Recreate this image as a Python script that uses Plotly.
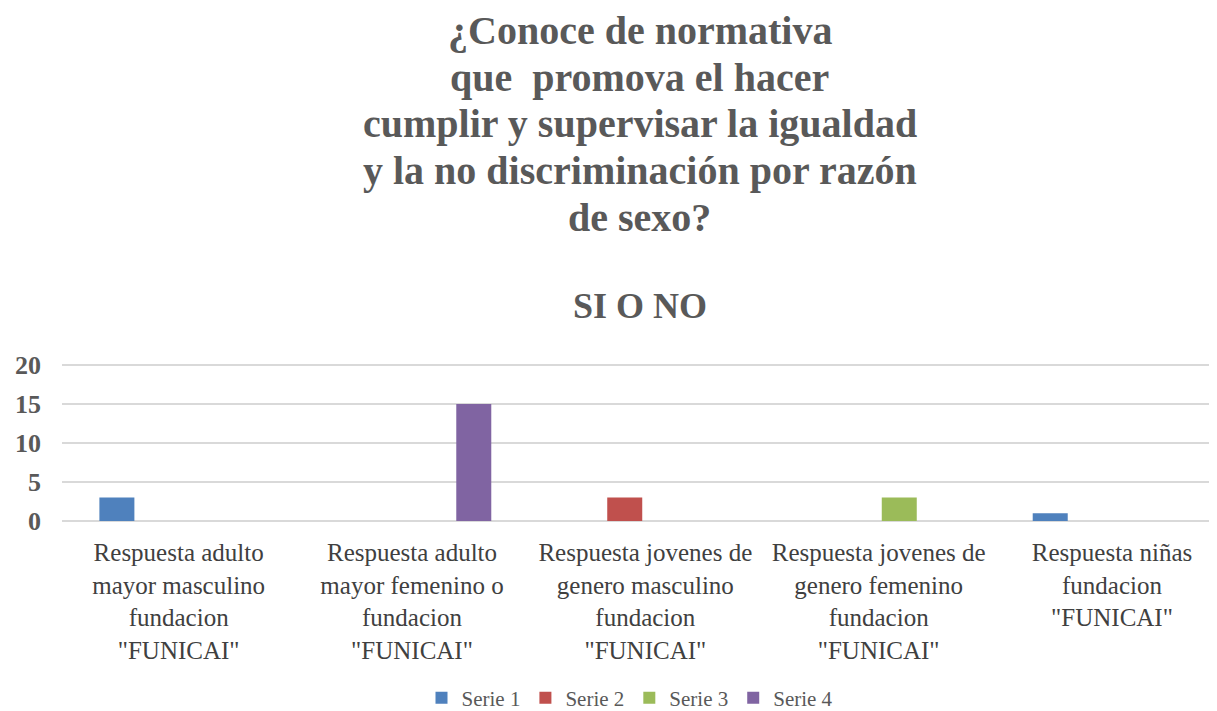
import plotly.graph_objects as go

categories = [
    "Respuesta adulto<br>mayor masculino<br>fundacion<br>\"FUNICAI\"",
    "Respuesta adulto<br>mayor femenino o<br>fundacion<br>\"FUNICAI\"",
    "Respuesta jovenes de<br>genero masculino<br>fundacion<br>\"FUNICAI\"",
    "Respuesta jovenes de<br>genero femenino<br>fundacion<br>\"FUNICAI\"",
    "Respuesta niñas<br>fundacion<br>\"FUNICAI\"",
]
serie1 = [3, None, None, None, 1]
serie2 = [None, None, 3, None, None]
serie3 = [None, None, None, 3, None]
serie4 = [None, 15, None, None, None]
series_names = ["Serie 1", "Serie 2", "Serie 3", "Serie 4"]
colors = ["#4f81bd", "#c0504d", "#9bbb59", "#8064a2"]
y_ticks = [0, 5, 10, 15, 20]

title_lines = [
    "¿Conoce de normativa",
    "que  promova el hacer",
    "cumplir y supervisar la igualdad",
    "y la no discriminación por razón",
    "de sexo?",
]
subtitle_text = "SI O NO"

fig = go.Figure()
for name, vals, col in zip(series_names, [serie1, serie2, serie3, serie4], colors):
    fig.add_trace(go.Bar(x=categories, y=vals, name=name, marker_color=col,
                         marker_line_width=0))

OFF = 8  # page body margin offset
W, H = 1217 - OFF, 711 - OFF
m_l, m_r, m_t, m_b = 62 - OFF, 0, 362 - OFF, 711 - 521
plot_h = H - m_t - m_b
plot_w = W - m_l - m_r


def py(ref_y):
    return (H - m_b - (ref_y - OFF)) / plot_h


annotations = []
title_y = [31, 77.5, 124, 170.5, 217]
for txt, yp in zip(title_lines, title_y):
    annotations.append(dict(text="<b>" + txt + "</b>", x=0.5, xref="paper",
                            y=py(yp), yref="paper", yanchor="middle",
                            showarrow=False,
                            font=dict(family="Liberation Serif", size=40, color="#595959")))
annotations.append(dict(text="<b>" + subtitle_text + "</b>", x=0.5, xref="paper",
                        y=py(306), yref="paper", yanchor="middle",
                        showarrow=False,
                        font=dict(family="Liberation Serif", size=36, color="#595959")))

fig.update_layout(
    width=W, height=H,
    margin=dict(l=m_l, r=m_r, t=m_t, b=m_b, autoexpand=False),
    paper_bgcolor="white", plot_bgcolor="white",
    barmode="group", bargap=0.294, bargroupgap=0.15,
    font=dict(family="Liberation Serif", color="#595959"),
    showlegend=True,
    legend=dict(orientation="h", x=0.5 - 9.5 / plot_w, xanchor="center", yref="container",
                y=1 - (698 - OFF) / H, yanchor="middle",
                font=dict(family="Liberation Serif", size=21, color="#595959"),
                itemsizing="constant", itemwidth=30, tracegroupgap=0),
    annotations=annotations,
)
fig.update_yaxes(range=[0, 20.4], tickvals=y_ticks, showgrid=True, gridcolor="#d9d9d9",
                 gridwidth=1.5, zeroline=True, zerolinecolor="#d9d9d9", zerolinewidth=1.5,
                 showline=False, automargin=False, ticklabelstandoff=20,
                 tickfont=dict(family="Liberation Serif", size=26, color="#595959",
                               weight="bold"), ticks="")
fig.update_xaxes(showline=False, ticks="", automargin=False, range=[-0.5, 4.45],
                 ticklabelstandoff=14,
                 tickfont=dict(family="Liberation Serif", size=25, color="#404040"))

fig.write_html("out.html")
